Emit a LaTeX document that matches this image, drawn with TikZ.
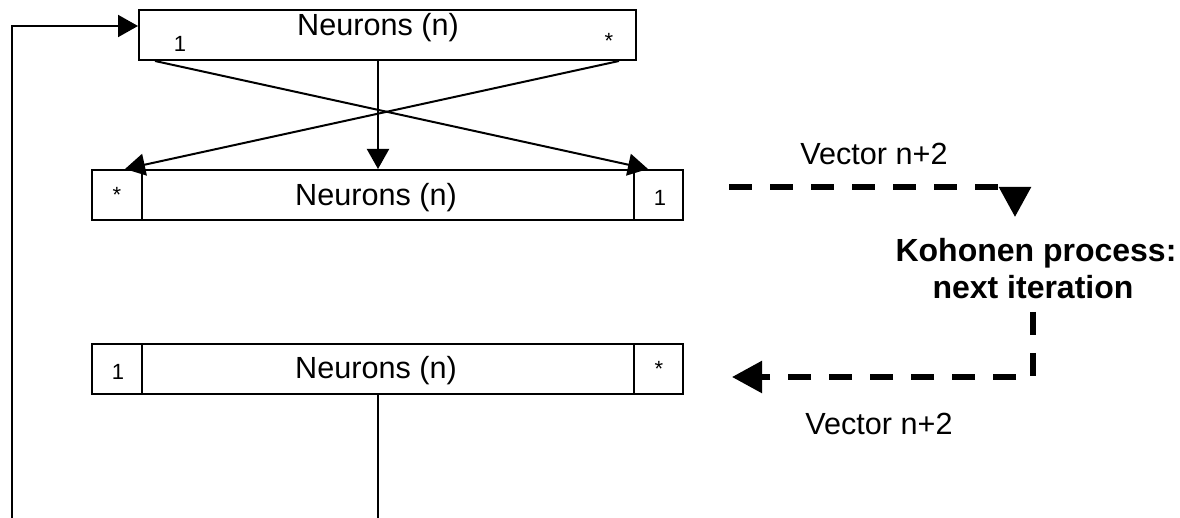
\documentclass[tikz,border=0pt]{standalone}
\usepackage{fontspec}
\setmainfont{Liberation Sans}
\usetikzlibrary{arrows.meta}
\begin{document}
\begin{tikzpicture}[x=0.5pt,y=-0.5pt,
  box/.style={draw,line width=1pt,inner sep=0pt,anchor=north west},
  conn/.style={line width=1pt},
  arr/.style={conn,-{Triangle[length=10pt,width=11pt]}},
  dashedarr/.style={line width=2.8pt,dash pattern=on 11.5pt off 9pt,-{Triangle[length=15pt,width=15.5pt]}},
  big/.style={font=\fontsize{15.3}{18}\selectfont,inner sep=0pt,anchor=base},
  bold/.style={font=\fontsize{16}{19}\selectfont\bfseries,inner sep=0pt,anchor=base},
  small/.style={font=\fontsize{11}{12}\selectfont,inner sep=0pt,anchor=base}]
\useasboundingbox (0,0) rectangle (1180,518);
% top box
\node[box,minimum width=248.5pt,minimum height=24.75pt] (top) at (138,9.5) {};
\node[big] (toptxt) at (378,36) {Neurons (n)};
\node[small] (top1) at (180,52) {1};
\node[small] (topstar) at (609,49) {*};
% middle box
\node[box,minimum width=25pt,minimum height=25pt] (midL) at (91,169) {};
\node[box,minimum width=246pt,minimum height=25pt] (midC) at (141,169) {};
\node[box,minimum width=24.5pt,minimum height=25pt] (midR) at (633,169) {};
\node[big] (midtxt) at (376,206) {Neurons (n)};
\node[small] (midstar) at (117,203) {*};
\node[small] (mid1) at (660,206) {1};
% bottom box
\node[box,minimum width=25pt,minimum height=25pt] (botL) at (91,343) {};
\node[box,minimum width=246pt,minimum height=25pt] (botC) at (141,343) {};
\node[box,minimum width=24.5pt,minimum height=25pt] (botR) at (633,343) {};
\node[big] (bottxt) at (376,379) {Neurons (n)};
\node[small] (bot1) at (118,380) {1};
\node[small] (botstar) at (659,377) {*};
% connectors
\coordinate (fbend) at (12,518);
\coordinate (botend) at (378,518);
\draw[arr] (fbend) |- (top.west |- 0,26);
\draw[arr] ([xshift=8.5pt]top.south west) -- ([xshift=7.5pt]midR.north west);
\draw[arr] ([xshift=-9pt]top.south east) -- ([xshift=-8pt]midC.north west);
\draw[arr] (top.south -| 378,0) -- (midC.north -| 378,0);
\draw[conn] (botC.south -| 378,0) -- (botend);
% right side
\node[big] (v1) at (874,165) {Vector n+2};
\node[bold] (k1) at (1036,262) {Kohonen process:};
\node[bold] (k2) at (1033,299) {next iteration};
\node[big] (v2) at (879,435) {Vector n+2};
\coordinate (d1s) at (729,187);
\coordinate (d1e) at (1015,217);
\draw[dashedarr] (d1s) -| (d1e);
\coordinate (d2s) at (1033,312);
\coordinate (d2e) at (732,377);
\draw[dashedarr] (d2s) |- (d2e);
\end{tikzpicture}
\end{document}
